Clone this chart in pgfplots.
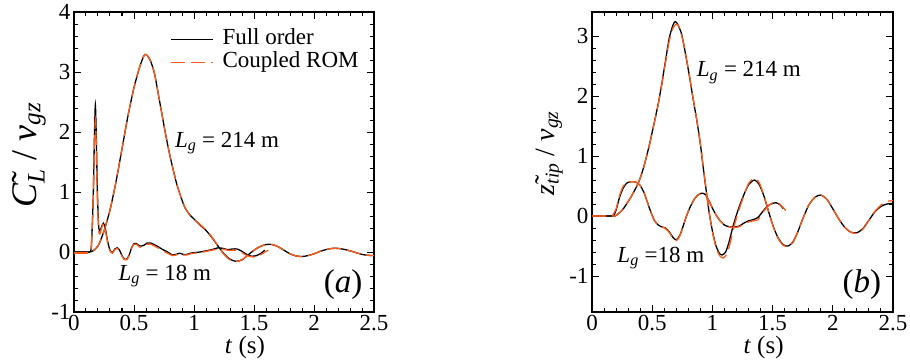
\documentclass[border=0pt]{standalone}
\usepackage{pgfplots}
\pgfplotsset{compat=1.18}
\usepackage{fontspec}
\setmainfont{Liberation Serif}
\definecolor{romorange}{RGB}{255,90,25}
\newcommand{\fs}[1]{\fontsize{#1}{#1}\selectfont}
\tikzset{ann/.style={font=\fs{23}, inner sep=0pt, anchor=base west}}
\pgfplotsset{
  panel/.style={
    scale only axis, height=300pt,
    xmin=0, xmax=2.5, xtick={0,0.5,1,1.5,2,2.5},
    xticklabels={0,0.5,1,1.5,2,2.5},
    minor x tick num=4, minor y tick num=4,
    tick align=inside, major tick length=7pt, minor tick length=4pt,
    axis line style={line width=1.2pt},
    every tick/.style={line width=1pt, black},
    tick label style={font=\fs{23}},
    /pgf/number format/assume math mode=true,
    xlabel={\textit{t} (s)},
    xlabel style={at={(axis description cs:0.57,-0.118)}, anchor=center, font=\fs{25}},
    clip=true,
  },
  full/.style={black, line width=1.3pt, smooth, tension=0.45},
  rom/.style={romorange, line width=1.3pt, dash pattern=on 14pt off 6pt, smooth, tension=0.45},
}
\begin{document}
\begin{tikzpicture}
\begin{axis}[panel, at={(74pt,-312pt)}, anchor=south west, width=300pt,
  ymin=-1, ymax=4, ytick={-1,0,1,2,3,4},
  ylabel={\~{\textit{C}}\textsubscript{\textit{L}} / \textit{v}\textsubscript{\textit{gz}}},
  ylabel style={at={(axis description cs:-0.15,0.523)}, anchor=center, font=\fs{36}},
  legend style={at={(0.32,0.947)}, anchor=north west, draw=none, fill=none, font=\fs{23}, inner sep=0pt, row sep=0pt,
    nodes={inner sep=0pt, font=\fs{23}, text height=16pt, text depth=7pt},
    /tikz/every odd column/.append style={column sep=9pt}},
  legend cell align=left,
  legend image code/.code={\draw[#1, line width=1.3pt] (0pt,0pt) -- (42pt,0pt);},
]
% Lg = 214 m, full order
\addplot[full] coordinates {
(0,0) (0.1,0) (0.15,0.01) (0.2,0.1) (0.25,0.35) (0.3,0.7) (0.35,1.17) (0.4,1.72) (0.45,2.27) (0.5,2.74) (0.55,3.1) (0.59,3.29) (0.63,3.22) (0.67,2.98) (0.71,2.55) (0.76,2.0) (0.8,1.6) (0.85,1.18) (0.88,0.98) (0.92,0.76) (0.96,0.63) (1.0,0.55) (1.05,0.45) (1.1,0.36) (1.15,0.24) (1.2,0.1) (1.25,-0.03) (1.3,-0.12) (1.35,-0.155) (1.4,-0.13) (1.45,-0.05) (1.5,0.03) (1.55,0.09) (1.6,0.125) (1.65,0.125) (1.7,0.09) (1.75,0.03) (1.8,-0.03) (1.85,-0.065) (1.9,-0.075) (1.95,-0.06) (2.0,-0.03) (2.05,0.01) (2.1,0.04) (2.15,0.06) (2.2,0.06) (2.25,0.045) (2.3,0.02) (2.35,-0.01) (2.4,-0.04) (2.45,-0.055) (2.5,-0.06)
};
\addlegendentry{Full order}
% Lg = 18 m, full order
\addplot[full, forget plot] coordinates {
(0,0) (0.1,0) (0.13,0.0) (0.145,0.1) (0.16,0.9) (0.17,1.9) (0.178,2.45) (0.186,1.9) (0.195,1.0) (0.205,0.45) (0.215,0.35) (0.23,0.42) (0.245,0.48) (0.26,0.4) (0.28,0.18) (0.3,0.03) (0.32,-0.01) (0.34,0.05) (0.36,0.07) (0.38,0.03) (0.4,-0.06) (0.42,-0.12) (0.44,-0.12) (0.46,-0.05) (0.48,0.07) (0.5,0.14) (0.52,0.14) (0.55,0.1) (0.58,0.11) (0.61,0.15) (0.64,0.15) (0.67,0.12) (0.7,0.09) (0.74,0.04) (0.78,0.0) (0.82,-0.05) (0.85,-0.04) (0.88,-0.02) (0.91,-0.04) (0.94,-0.04) (0.97,-0.02) (1.0,-0.01) (1.05,0.0) (1.1,0.02) (1.15,0.04) (1.2,0.07) (1.24,0.06) (1.28,0.04) (1.32,0.05) (1.36,0.05) (1.4,0.01) (1.44,-0.04) (1.48,-0.07) (1.52,-0.06) (1.56,-0.02) (1.59,0.03)
};
% Lg = 214 m, ROM
\addplot[rom] coordinates {
(0,-0.01) (0.1,-0.01) (0.15,0.0) (0.2,0.1) (0.25,0.35) (0.3,0.7) (0.35,1.17) (0.4,1.72) (0.45,2.27) (0.5,2.74) (0.55,3.1) (0.59,3.29) (0.63,3.22) (0.67,2.98) (0.71,2.55) (0.76,2.0) (0.8,1.6) (0.85,1.18) (0.88,0.98) (0.92,0.76) (0.96,0.63) (1.0,0.55) (1.05,0.46) (1.1,0.37) (1.15,0.25) (1.2,0.1) (1.25,-0.04) (1.3,-0.13) (1.35,-0.16) (1.4,-0.13) (1.45,-0.05) (1.5,0.03) (1.55,0.09) (1.6,0.125) (1.65,0.125) (1.7,0.09) (1.75,0.03) (1.8,-0.03) (1.85,-0.065) (1.9,-0.075) (1.95,-0.06) (2.0,-0.03) (2.05,0.01) (2.1,0.04) (2.15,0.06) (2.2,0.06) (2.25,0.045) (2.3,0.02) (2.35,-0.01) (2.4,-0.04) (2.45,-0.055) (2.5,-0.06)
};
\addlegendentry{Coupled ROM}
% Lg = 18 m, ROM
\addplot[rom, forget plot] coordinates {
(0,-0.02) (0.1,-0.02) (0.13,-0.01) (0.145,0.1) (0.16,0.85) (0.17,1.75) (0.178,2.2) (0.186,1.75) (0.195,0.9) (0.205,0.38) (0.215,0.3) (0.23,0.4) (0.245,0.47) (0.26,0.38) (0.28,0.16) (0.3,0.02) (0.32,-0.02) (0.34,0.04) (0.36,0.06) (0.38,0.02) (0.4,-0.07) (0.42,-0.13) (0.44,-0.13) (0.46,-0.06) (0.48,0.06) (0.5,0.13) (0.52,0.13) (0.55,0.08) (0.58,0.09) (0.61,0.13) (0.64,0.13) (0.67,0.1) (0.7,0.07) (0.74,0.02) (0.78,-0.02) (0.82,-0.06) (0.85,-0.05) (0.88,-0.03) (0.91,-0.05) (0.94,-0.05) (0.97,-0.03) (1.0,-0.02) (1.05,-0.01) (1.1,0.01) (1.15,0.03) (1.2,0.05) (1.24,0.05) (1.28,0.03) (1.32,0.03) (1.36,0.03) (1.4,-0.01) (1.44,-0.06) (1.48,-0.08) (1.52,-0.08) (1.56,-0.04) (1.6,0.01) (1.62,0.03)
};
\node[ann] at (axis cs:0.84,1.75) {\textit{L}\textsubscript{\textit{g}} = 214 m};
\node[ann] at (axis cs:0.37,-0.47) {\textit{L}\textsubscript{\textit{g}} = 18 m};
\node[ann, font=\fs{33}] at (axis cs:2.08,-0.67) {(\textit{a})};
\end{axis}

\begin{axis}[panel, at={(592pt,-312pt)}, anchor=south west, width=301pt,
  ymin=-1.6, ymax=3.4, ytick={-1,0,1,2,3},
  ylabel={\~{\textit{z}}\textsubscript{\textit{tip}} / \textit{v}\textsubscript{\textit{gz}}},
  ylabel style={at={(axis description cs:-0.143,0.53)}, anchor=center, font=\fs{28}},
]
% Lg = 214 m, full
\addplot[full] coordinates {
(0,0) (0.15,0) (0.19,0.0) (0.22,0.04) (0.26,0.12) (0.29,0.21) (0.33,0.34) (0.37,0.49) (0.4,0.63) (0.43,0.82) (0.47,1.13) (0.51,1.49) (0.55,1.87) (0.58,2.21) (0.61,2.58) (0.64,2.95) (0.67,3.17) (0.69,3.24) (0.71,3.2) (0.74,3.06) (0.76,2.88) (0.79,2.55) (0.81,2.32) (0.84,1.95) (0.87,1.6) (0.9,1.2) (0.92,0.87) (0.95,0.4) (0.97,0.1) (1.0,-0.25) (1.03,-0.5) (1.06,-0.63) (1.08,-0.65) (1.11,-0.6) (1.14,-0.42) (1.17,-0.18) (1.21,0.08) (1.25,0.3) (1.3,0.52) (1.35,0.6) (1.39,0.52) (1.43,0.32) (1.47,0.05) (1.51,-0.2) (1.55,-0.38) (1.59,-0.48) (1.63,-0.5) (1.67,-0.43) (1.71,-0.26) (1.75,-0.05) (1.8,0.18) (1.85,0.31) (1.9,0.35) (1.95,0.28) (2.0,0.12) (2.05,-0.05) (2.1,-0.19) (2.15,-0.27) (2.2,-0.28) (2.25,-0.21) (2.3,-0.07) (2.35,0.07) (2.4,0.16) (2.45,0.2) (2.5,0.21)
};
% Lg = 18 m, full
\addplot[full] coordinates {
(0,0) (0.15,0) (0.18,0.01) (0.2,0.1) (0.23,0.32) (0.26,0.47) (0.29,0.55) (0.32,0.57) (0.35,0.57) (0.38,0.55) (0.4,0.51) (0.43,0.4) (0.46,0.23) (0.49,0.06) (0.52,-0.08) (0.55,-0.15) (0.58,-0.18) (0.61,-0.2) (0.64,-0.26) (0.67,-0.35) (0.7,-0.4) (0.73,-0.32) (0.76,-0.15) (0.79,0.03) (0.82,0.17) (0.85,0.28) (0.88,0.35) (0.91,0.38) (0.94,0.36) (0.97,0.26) (1.0,0.13) (1.03,0.02) (1.06,-0.07) (1.1,-0.15) (1.14,-0.18) (1.18,-0.18) (1.22,-0.17) (1.26,-0.12) (1.3,-0.08) (1.34,-0.06) (1.38,-0.02) (1.42,0.08) (1.46,0.17) (1.5,0.21) (1.53,0.22) (1.56,0.19) (1.59,0.12)
};
% Lg = 214 m, ROM
\addplot[rom] coordinates {
(0,0) (0.15,0) (0.19,0.0) (0.22,0.04) (0.26,0.12) (0.29,0.21) (0.33,0.34) (0.37,0.49) (0.4,0.63) (0.43,0.82) (0.47,1.12) (0.51,1.48) (0.55,1.86) (0.58,2.19) (0.61,2.55) (0.64,2.9) (0.67,3.12) (0.7,3.2) (0.72,3.16) (0.74,3.04) (0.76,2.88) (0.79,2.56) (0.81,2.33) (0.84,1.96) (0.87,1.61) (0.9,1.21) (0.92,0.88) (0.95,0.41) (0.97,0.1) (1.0,-0.26) (1.03,-0.52) (1.06,-0.66) (1.09,-0.7) (1.12,-0.63) (1.15,-0.43) (1.18,-0.17) (1.22,0.1) (1.26,0.33) (1.3,0.54) (1.35,0.63) (1.39,0.55) (1.43,0.33) (1.47,0.05) (1.51,-0.21) (1.55,-0.39) (1.59,-0.49) (1.63,-0.51) (1.67,-0.44) (1.71,-0.26) (1.75,-0.05) (1.8,0.18) (1.85,0.31) (1.9,0.35) (1.95,0.28) (2.0,0.12) (2.05,-0.05) (2.1,-0.19) (2.15,-0.27) (2.2,-0.29) (2.25,-0.22) (2.3,-0.07) (2.35,0.08) (2.4,0.18) (2.45,0.24) (2.5,0.26)
};
% Lg = 18 m, ROM
\addplot[rom] coordinates {
(0,0) (0.15,0) (0.17,0.01) (0.2,0.12) (0.23,0.35) (0.26,0.5) (0.29,0.56) (0.32,0.57) (0.35,0.57) (0.38,0.55) (0.4,0.51) (0.43,0.4) (0.46,0.23) (0.49,0.06) (0.52,-0.08) (0.55,-0.15) (0.58,-0.18) (0.61,-0.21) (0.64,-0.27) (0.67,-0.36) (0.7,-0.41) (0.73,-0.33) (0.76,-0.15) (0.79,0.03) (0.82,0.17) (0.85,0.28) (0.88,0.35) (0.91,0.38) (0.94,0.36) (0.97,0.26) (1.0,0.13) (1.03,0.02) (1.06,-0.07) (1.1,-0.15) (1.14,-0.18) (1.18,-0.19) (1.22,-0.18) (1.26,-0.14) (1.3,-0.1) (1.34,-0.08) (1.38,-0.06) (1.42,0.06) (1.46,0.16) (1.5,0.22) (1.53,0.23) (1.56,0.2) (1.61,0.09)
};
\node[ann] at (axis cs:0.87,2.32) {\textit{L}\textsubscript{\textit{g}} = 214 m};
\node[ann] at (axis cs:0.21,-0.77) {\textit{L}\textsubscript{\textit{g}} =18 m};
\node[ann, font=\fs{33}] at (axis cs:2.08,-1.27) {(\textit{b})};
\end{axis}
\pgfresetboundingbox
\path[use as bounding box] (0pt,0pt) rectangle (910pt,-360pt);
\end{tikzpicture}
\end{document}
